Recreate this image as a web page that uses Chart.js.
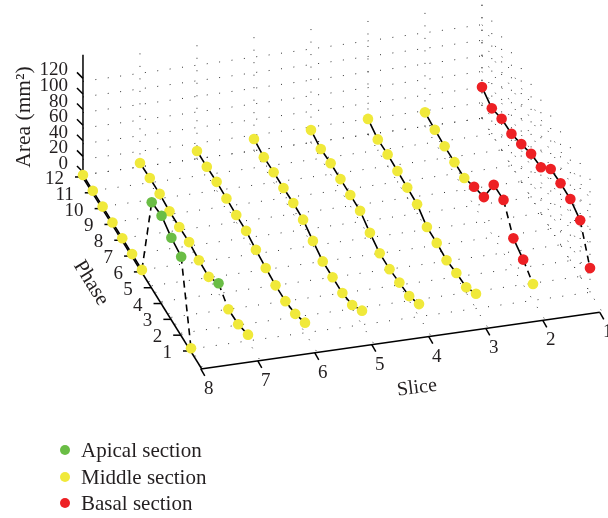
<!DOCTYPE html>
<html>
<head>
<meta charset="utf-8">
<title>Area by slice and phase</title>
<script src="https://cdn.jsdelivr.net/npm/chart.js@4"></script>
<style>
  html, body { margin: 0; padding: 0; background: #fff; }
  canvas { display: block; }
</style>
</head>
<body>
<canvas id="myChart" width="608" height="518"></canvas>
<script>
// values, phase 12 first
const phases = [12, 11, 10, 9, 8, 7, 6, 5, 4, 3, 2, 1];
const slices = [8, 7, 6, 5, 4, 3, 2, 1];
const areaTicks = [0, 20, 40, 60, 80, 100, 120];

const areaSlice8 = [0, 0, 0, 0, 0, 0, 0, 107, 110, 102, 98, 1];
const areaSlice7 = [5, 6, 6, 4, 4, 5, 2, 1, 13, 0, 1, 8];
const areaSlice6 = [10, 10, 11, 10, 9, 9, 5, 2, 0, 0, 4, 13];
const areaSlice5 = [15, 12, 13, 13, 14, 13, 6, 0, 0, 0, 5, 18];
const areaSlice4 = [16, 12, 14, 14, 14, 14, 6, 0, 0, 3, 6, 16];
const areaSlice3 = [20, 14, 15, 14, 13, 12, 3, 3, 1, 5, 7, 19];
const areaSlice2 = [18, 16, 15, 15, 15, 24, 31, 67, 68, 39, 32, 21];
const areaSlice1 = [40, 33, 40, 41, 48, 56, 59, 77, 79, 79, 72, 31];

// A apical, M middle, B basal
const sectionSlice8 = ['M', 'M', 'M', 'M', 'M', 'M', 'M', 'A', 'A', 'A', 'A', 'M'];
const sectionSlice7 = ['M', 'M', 'M', 'M', 'M', 'M', 'M', 'M', 'A', 'M', 'M', 'M'];
const sectionSlice6 = ['M', 'M', 'M', 'M', 'M', 'M', 'M', 'M', 'M', 'M', 'M', 'M'];
const sectionSlice5 = ['M', 'M', 'M', 'M', 'M', 'M', 'M', 'M', 'M', 'M', 'M', 'M'];
const sectionSlice4 = ['M', 'M', 'M', 'M', 'M', 'M', 'M', 'M', 'M', 'M', 'M', 'M'];
const sectionSlice3 = ['M', 'M', 'M', 'M', 'M', 'M', 'M', 'M', 'M', 'M', 'M', 'M'];
const sectionSlice2 = ['M', 'M', 'M', 'M', 'M', 'B', 'B', 'B', 'B', 'B', 'B', 'M'];
const sectionSlice1 = ['B', 'B', 'B', 'B', 'B', 'B', 'B', 'B', 'B', 'B', 'B', 'B'];

// phase where a dashed piece of the line starts
const dashedFromSlice8 = [6, 2];
const dashedFromSlice7 = [5, 4];
const dashedFromSlice2 = [4, 2];
const dashedFromSlice1 = [2];

const sectionNames = ['Apical section', 'Middle section', 'Basal section'];
const sectionColors = { A: '#6abd45', M: '#f0e93a', B: '#ed2024' };

const textColor = '#231f20';
const serif = '"Liberation Serif", serif';

// oblique view of the box: slice, phase, area -> position on the flat scales
function project(slice, phase, area) {
  return {
    x: 191 + (8 - slice) * 57 - (phase - 1) * 9.82,
    y: 349 - (8 - slice) * 8.1 - (phase - 1) * 15.82 - area * 0.78
  };
}

function sliceDataset(slice, areas, sections, dashedFrom) {
  return {
    label: 'Slice ' + slice,
    data: phases.map((p, i) => project(slice, p, areas[i])),
    borderColor: '#000',
    borderWidth: 1.6,
    tension: 0,
    pointRadius: 5.3,
    pointBorderWidth: 0,
    pointBackgroundColor: sections.map(s => sectionColors[s]),
    segment: {
      borderDash: ctx => dashedFrom.includes(phases[ctx.p0DataIndex]) ? [7, 5] : undefined
    }
  };
}

const box = {
  id: 'box',
  beforeDatasetsDraw(chart) {
    const c = chart.ctx;
    const sx = chart.scales.x;
    const sy = chart.scales.y;
    const px = pt => [sx.getPixelForValue(pt.x), sy.getPixelForValue(pt.y)];
    const line = (a, b, ox = 0, oy = 0) => {
      const p = px(a);
      const q = px(b);
      c.beginPath();
      c.moveTo(p[0] + ox, p[1] + oy);
      c.lineTo(q[0] + ox, q[1] + oy);
      c.stroke();
    };

    c.save();
    // dotted grid on floor and the two walls
    c.strokeStyle = '#333';
    c.lineWidth = 1;
    c.setLineDash([1, 11.5]);
    phases.forEach(p => {
      line(project(8, p, 0), project(1, p, 0));
      line(project(1, p, 0), project(1, p, 150));
    });
    slices.forEach(s => {
      line(project(s, 12, 0), project(s, -0.2, 0));
      if (s < 8) line(project(s, 12, 0), project(s, 12, 150));
    });
    areaTicks.forEach(a => {
      line(project(8, 12, a), project(1, 12, a));
      line(project(1, 12, a), project(1, 1, a));
    });
    c.setLineDash([]);

    // axes
    c.strokeStyle = '#000';
    c.lineWidth = 1.5;
    line(project(8, -0.2, 0), project(8, 12, 0), -1, 1);
    line(project(8, -0.2, 0), project(1, -0.2, 0), -2, 1);
    line(project(8, 12, 0), project(8, 12, 154), 0, 0);

    c.fillStyle = textColor;
    c.font = '19px ' + serif;
    c.textBaseline = 'middle';

    // phase ticks
    phases.forEach(p => {
      const q = px(project(8, p, 0));
      c.beginPath();
      c.moveTo(q[0] - 8, q[1] + 2);
      c.lineTo(q[0], q[1] + 2);
      c.stroke();
      c.textAlign = 'right';
      c.fillText(String(p), q[0] - 19, q[1] + 4);
    });

    // slice ticks
    slices.forEach(s => {
      const q = px(project(s, -0.2, 0));
      c.beginPath();
      c.moveTo(q[0] - 2, q[1] + 1);
      c.lineTo(q[0] + 2, q[1] + 8);
      c.stroke();
      c.textAlign = 'center';
      c.fillText(String(s), q[0] + 6, q[1] + 21);
    });

    // area ticks
    areaTicks.forEach(a => {
      const q = px(project(8, 12, a));
      c.beginPath();
      c.moveTo(q[0], q[1] - 3);
      c.lineTo(q[0] - 6, q[1] - 9);
      c.stroke();
      c.textAlign = 'right';
      c.fillText(String(a), 68, q[1] - 11);
    });

    // axis titles
    c.textAlign = 'center';
    c.save();
    c.translate(24, 117);
    c.rotate(-Math.PI / 2);
    c.font = '21.5px ' + serif;
    c.fillText('Area (mm²)', 0, 0);
    c.restore();

    c.font = '21px ' + serif;
    c.save();
    c.translate(91, 283);
    c.rotate(58 * Math.PI / 180);
    c.fillText('Phase', 0, 0);
    c.restore();

    c.save();
    c.translate(417, 388);
    c.rotate(-7 * Math.PI / 180);
    c.font = '20px ' + serif;
    c.fillText('Slice', 0, 0);
    c.restore();

    // legend
    const keys = ['A', 'M', 'B'];
    const rows = [450, 477, 503];
    c.textAlign = 'left';
    sectionNames.forEach((name, i) => {
      c.beginPath();
      c.fillStyle = sectionColors[keys[i]];
      c.arc(65, rows[i], 5, 0, Math.PI * 2);
      c.fill();
      c.fillStyle = textColor;
      c.fillText(name, 81, rows[i] + 1);
    });
    c.restore();
  }
};

var ctx = document.getElementById('myChart').getContext('2d');

var myChart = new Chart(ctx, {
  type: 'line',
  data: {
    datasets: [
      sliceDataset(8, areaSlice8, sectionSlice8, dashedFromSlice8),
      sliceDataset(7, areaSlice7, sectionSlice7, dashedFromSlice7),
      sliceDataset(6, areaSlice6, sectionSlice6, []),
      sliceDataset(5, areaSlice5, sectionSlice5, []),
      sliceDataset(4, areaSlice4, sectionSlice4, []),
      sliceDataset(3, areaSlice3, sectionSlice3, []),
      sliceDataset(2, areaSlice2, sectionSlice2, dashedFromSlice2),
      sliceDataset(1, areaSlice1, sectionSlice1, dashedFromSlice1)
    ]
  },
  options: {
    responsive: false,
    animation: false,
    layout: { padding: 0, autoPadding: false },
    plugins: { legend: { display: false }, tooltip: { enabled: false } },
    scales: {
      x: { type: 'linear', display: false, min: 0, max: 608 },
      y: { type: 'linear', display: false, min: 0, max: 518, reverse: true }
    }
  },
  plugins: [box]
});
</script>
</body>
</html>
